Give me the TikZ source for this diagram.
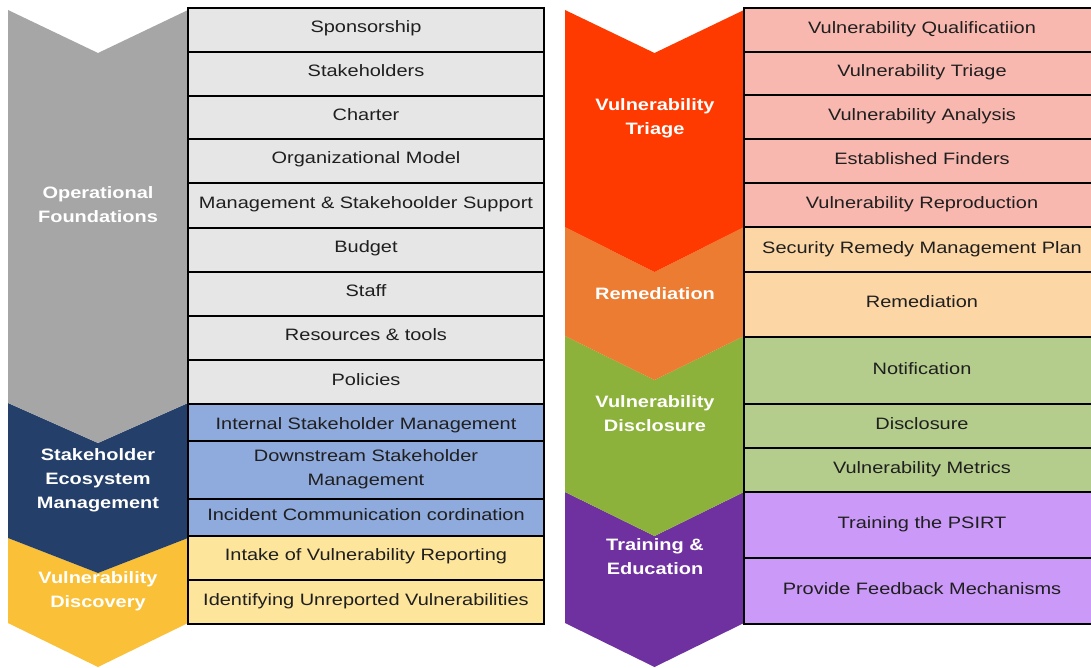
\documentclass[tikz,border=0pt]{standalone}
\usepackage{fontspec}
\setmainfont[FakeStretch=1.21]{Liberation Sans}
% phase colours
\definecolor{phgray}{HTML}{A6A6A6}
\definecolor{phnavy}{HTML}{243F6A}
\definecolor{phyellow}{HTML}{FAC038}
\definecolor{phred}{HTML}{FF3A00}
\definecolor{phorange}{HTML}{EC7C32}
\definecolor{phgreen}{HTML}{8DB23B}
\definecolor{phpurple}{HTML}{7031A0}
% activity cell colours
\definecolor{cgray}{HTML}{E6E6E6}
\definecolor{cblue}{HTML}{8FAADC}
\definecolor{cyellow}{HTML}{FDE59C}
\definecolor{cpink}{HTML}{F9B8AF}
\definecolor{cpeach}{HTML}{FCD6A5}
\definecolor{cgreen}{HTML}{B5CD8C}
\definecolor{cpurple}{HTML}{CB9AF9}
% chevron: x-left, x-right, top, notch, bottom, tip, colour
\newcommand\phasechev[7]{%
  \fill[#7] (#1,#3) -- ({(#1+#2)/2},#4) -- (#2,#3) -- (#2,#5)
    -- ({(#1+#2)/2},#6) -- (#1,#5) -- cycle;}
\begin{document}
\begin{tikzpicture}[x=1pt,y=-1pt,
  cell/.style={draw=black,line width=1.8pt},
  cellfont/.style={font=\fontsize{16.5}{24}\selectfont,text=black!88,align=center,inner sep=0pt},
  celltext/.style={cellfont,text height=11.8pt,text depth=0pt},
  phase/.style={font=\bfseries\fontsize{16.5}{24}\selectfont,text=white,align=center,inner sep=0pt}]
\clip (0,0) rectangle (1091,667);
\fill[white] (0,0) rectangle (1091,667);

% left chevron column (lowest first, so each upper tip lies on top)
\phasechev{8}{188}{538}{573}{623}{667}{phyellow}
\phasechev{8}{188}{403}{443}{538}{573}{phnavy}
\phasechev{8}{188}{10}{53}{403}{443}{phgray}

% right chevron column
\phasechev{565}{744}{492}{536}{623}{667}{phpurple}
\phasechev{565}{744}{336}{380}{492}{536}{phgreen}
\phasechev{565}{744}{227}{272}{336}{380}{phorange}
\phasechev{565}{744}{10}{53}{227}{272}{phred}

% phase labels
\node[phase] (opf) at (98,204.5) {Operational\\Foundations};
\node[phase] (sem) at (98,480.5) {Stakeholder\\Ecosystem\\Management};
\node[phase] (vdi) at (98,591) {Vulnerability\\Discovery};
\node[phase] (vtr) at (655,118) {Vulnerability\\Triage};
\node[phase] (rem) at (655,293.5) {Remediation};
\node[phase] (vds) at (655,413.5) {Vulnerability\\Disclosure};
\node[phase] (tae) at (655,556.5) {Training \&\\Education};

% left activity table (offset = shift of the text from the row centre)
\foreach \t/\b/\txt/\col/\off [count=\i] in {
  8/52/Sponsorship/cgray/-3,
  52/96/Stakeholders/cgray/-3,
  96/139/Charter/cgray/-2.5,
  139/183/Organizational Model/cgray/-3,
  183/228/{Management \& Stakehoolder Support}/cgray/-2.5,
  228/272/Budget/cgray/-3,
  272/316/Staff/cgray/-3,
  316/360/{Resources \& tools}/cgray/-3,
  360/404/Policies/cgray/-2.5,
  404/441/Internal Stakeholder Management/cblue/1,
  441/499/{}/cblue/0,
  499/536/Incident Communication cordination/cblue/-2.5,
  536/580/Intake of Vulnerability Reporting/cyellow/-3,
  580/624/Identifying Unreported Vulnerabilities/cyellow/-2.5}
{
  \filldraw[cell,fill=\col] (188,\t) rectangle (544,\b);
  \node[celltext] (L\i) at (366,{(\t+\b)/2+\off}) {\txt};
}
\node[cellfont] (L11b) at (366,469.5) {Downstream Stakeholder\\Management};

% right activity table
\foreach \t/\b/\txt/\col/\off [count=\i] in {
  8/52/Vulnerability Qualificatiion/cpink/-2.5,
  52/95/Vulnerability Triage/cpink/-2.5,
  95/139/Vulnerability Analysis/cpink/-2.5,
  139/183/Established Finders/cpink/-2.5,
  183/227/Vulnerability Reproduction/cpink/-2.5,
  227/272/Security Remedy Management Plan/cpeach/-2,
  272/337/Remediation/cpeach/-2.5,
  337/404/Notification/cgreen/-2,
  404/448/Disclosure/cgreen/-2.5,
  448/492/Vulnerability Metrics/cgreen/-2.5,
  492/558/Training the PSIRT/cpurple/-2.5,
  558/624/Provide Feedback Mechanisms/cpurple/-2.5}
{
  \filldraw[cell,fill=\col] (744,\t) rectangle (1100,\b);
  \node[celltext] (R\i) at (922,{(\t+\b)/2+\off}) {\txt};
}
\end{tikzpicture}
\end{document}
